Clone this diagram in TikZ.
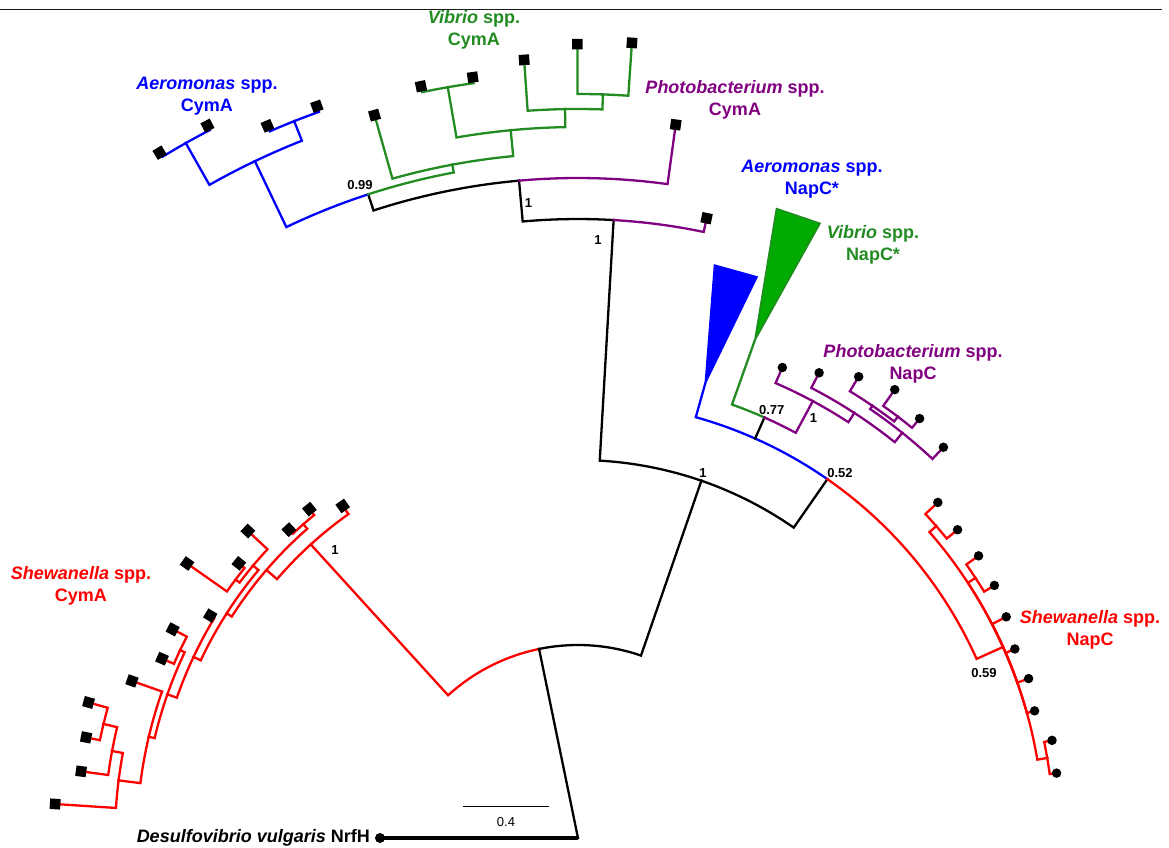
\documentclass[tikz,border=0pt]{standalone}
\usepackage{fontspec}
\setmainfont{Liberation Sans}
\definecolor{tred}{RGB}{255,0,0}
\definecolor{tblue}{RGB}{0,0,255}
\definecolor{tgreen}{RGB}{34,139,34}
\definecolor{tgreenfill}{RGB}{0,170,0}
\definecolor{tpurple}{RGB}{128,0,128}
\newcommand{\tbr}[5]{\draw[br,#1] (#2:#3) arc[start angle=#2, end angle=#4, radius=#3] -- (#4:#5);}
\newcommand{\sqleaf}[3]{\node[sqm, rotate=#2] (#1) at (#2:#3) {};}
\newcommand{\dotleaf}[3]{\node[dotm] (#1) at (#2:#3) {};}
\begin{document}
\begin{tikzpicture}[x=1pt,y=1pt,
  br/.style={line width=2.3pt, line cap=rect},
  sqm/.style={rectangle, fill=black, minimum size=10.5pt, inner sep=0pt},
  dotm/.style={circle, fill=black, minimum size=9.5pt, inner sep=0pt},
  lab/.style={font=\fontsize{18}{22}\selectfont\bfseries, align=center, inner sep=0pt},
  bsv/.style={font=\fontsize{13}{15}\selectfont\bfseries, inner sep=0pt}]
\useasboundingbox (-578,-9) rectangle (591,838);
% top rule
\draw[line width=1.7pt, black!90] (-578,828.5) -- (584,828.5);
% root
\coordinate (root) at (0,0);
\draw[br, line width=3.4pt, line cap=butt] (root) -- (180:198);
\draw[br] (root) -- (101.63:193);
% A
\tbr{tred}{101.63}{193}{132.31}{397}
\tbr{black}{101.63}{193}{70.95}{378}
% red CymA
\tbr{tred}{132.31}{397}{125.32}{407}
\tbr{tred}{132.31}{397}{139.3}{411}
\tbr{tred}{139.3}{411}{131.2}{417}
\tbr{tred}{131.2}{417}{129.24}{424.6}
\tbr{tred}{131.2}{417}{133.16}{422.7}
\tbr{tred}{139.3}{411}{147.4}{417}
\tbr{tred}{147.4}{417}{140.02}{424}
\tbr{tred}{140.02}{424}{137.08}{450.8}
\tbr{tred}{140.02}{424}{142.96}{429}
\tbr{tred}{142.96}{429}{141.0}{436.4}
\tbr{tred}{142.96}{429}{144.92}{477.7}
\tbr{tred}{147.4}{417}{154.78}{425}
\tbr{tred}{154.78}{425}{148.84}{429.8}
\tbr{tred}{154.78}{425}{160.72}{435}
\tbr{tred}{160.72}{435}{154.72}{440}
\tbr{tred}{154.72}{440}{152.76}{455.9}
\tbr{tred}{154.72}{440}{156.68}{453}
\tbr{tred}{160.72}{435}{166.725}{441}
\tbr{tred}{166.725}{441}{160.6}{472.9}
\tbr{tred}{166.725}{441}{172.85}{463}
\tbr{tred}{172.85}{463}{169.42}{474}
\tbr{tred}{172.85}{463}{176.28}{524}
\tbr{tred}{169.42}{474}{166.48}{488}
\tbr{tred}{169.42}{474}{172.36}{501.4}
\tbr{tred}{166.48}{488}{164.52}{507.9}
\tbr{tred}{166.48}{488}{168.44}{502.1}
% B
\tbr{black}{70.95}{378}{86.70}{619}
\tbr{black}{70.95}{378}{55.2}{437}
% C
\tbr{black}{86.70}{619}{95.125}{660}
\tbr{tpurple}{86.70}{619}{78.28}{633}
% E
\tbr{black}{95.125}{660}{108.05}{677}
\tbr{tpurple}{95.125}{660}{82.2}{720}
% F
\tbr{tblue}{108.05}{677}{115.52}{750}
\tbr{tgreen}{108.05}{677}{100.575}{685}
% G (Aeromonas CymA)
\tbr{tblue}{115.52}{750}{119.44}{798}
\tbr{tblue}{119.44}{798}{121.4}{803}
\tbr{tblue}{119.44}{798}{117.48}{803}
\tbr{tblue}{115.52}{750}{111.6}{771}
\tbr{tblue}{111.6}{771}{113.56}{777}
\tbr{tblue}{111.6}{771}{109.64}{777}
% H (Vibrio CymA)
\tbr{tgreen}{100.575}{685}{105.72}{751}
\tbr{tgreen}{100.575}{685}{95.43}{711}
\tbr{tgreen}{95.43}{711}{99.84}{762}
\tbr{tgreen}{99.84}{762}{101.8}{768}
\tbr{tgreen}{99.84}{762}{97.88}{768}
\tbr{tgreen}{95.43}{711}{91.02}{729}
\tbr{tgreen}{91.02}{729}{93.96}{780}
\tbr{tgreen}{91.02}{729}{88.08}{744}
\tbr{tgreen}{88.08}{744}{90.04}{794}
\tbr{tgreen}{88.08}{744}{86.12}{797}
% D
\tbr{tblue}{55.2}{437}{74.36}{472}
\draw[br,black] (66.09:437) -- (66.09:460);
\tbr{tred}{55.2}{437}{24.2}{466}
% Q
\tbr{tgreen}{66.09}{460}{70.44}{528}
\tbr{tpurple}{66.09}{460}{61.745}{496}
% Photobacterium NapC
\tbr{tpurple}{61.745}{496}{66.52}{513}
\tbr{tpurple}{61.745}{496}{56.97}{507}
\tbr{tpurple}{56.97}{507}{62.6}{524}
\tbr{tpurple}{56.97}{507}{51.33}{519}
\tbr{tpurple}{51.33}{519}{55.74}{523}
\tbr{tpurple}{51.33}{519}{46.92}{535}
\tbr{tpurple}{55.74}{523}{58.68}{540}
\tbr{tpurple}{55.74}{523}{52.8}{529}
\tbr{tpurple}{52.8}{529}{54.76}{549}
\tbr{tpurple}{52.8}{529}{50.84}{541}
% Shewanella NapC
\tbr{tred}{24.2}{466}{41.04}{475}
\tbr{tred}{41.04}{475}{43.0}{492}
\tbr{tred}{41.04}{475}{39.08}{489}
\tbr{tred}{24.2}{466}{33.2}{475}
\tbr{tred}{33.2}{475}{35.16}{490}
\tbr{tred}{33.2}{475}{31.24}{487}
\tbr{tred}{24.2}{466}{27.32}{482}
\tbr{tred}{24.2}{466}{23.4}{476}
\tbr{tred}{24.2}{466}{19.48}{478}
\tbr{tred}{24.2}{466}{15.56}{474}
\tbr{tred}{24.2}{466}{9.68}{476}
\tbr{tred}{9.68}{476}{11.64}{484}
\tbr{tred}{9.68}{476}{7.72}{483}
% collapsed clades
\filldraw[fill=tblue, draw=tblue, line width=1.5pt] (74.36:472) -- (76.6:589) -- (72.3:589) -- cycle;
\filldraw[fill=tgreenfill, draw=tgreen, line width=1.5pt] (70.44:528) -- (72.5:660) -- (68.5:660.6) -- cycle;
% leaf markers: squares (CymA)
\sqleaf{c1}{125.32}{407}
\sqleaf{c2}{129.24}{424.6}
\sqleaf{c3}{133.16}{422.7}
\sqleaf{c4}{137.08}{450.8}
\sqleaf{c5}{141.0}{436.4}
\sqleaf{c6}{144.92}{477.7}
\sqleaf{c7}{148.84}{429.8}
\sqleaf{c8}{152.76}{455.9}
\sqleaf{c9}{156.68}{453}
\sqleaf{c10}{160.6}{472.9}
\sqleaf{c11}{164.52}{507.9}
\sqleaf{c12}{168.44}{502.1}
\sqleaf{c13}{172.36}{501.4}
\sqleaf{c14}{176.28}{524}
\sqleaf{a1}{121.4}{803}
\sqleaf{a2}{117.48}{803}
\sqleaf{a3}{113.56}{777}
\sqleaf{a4}{109.64}{777}
\sqleaf{v1}{105.72}{751}
\sqleaf{v2}{101.8}{768}
\sqleaf{v3}{97.88}{768}
\sqleaf{v4}{93.96}{780}
\sqleaf{v5}{90.04}{794}
\sqleaf{v6}{86.12}{797}
\sqleaf{pc1}{82.2}{720}
\sqleaf{pc2}{78.28}{633}
% leaf markers: dots (NapC)
\dotleaf{p1}{66.52}{513}
\dotleaf{p2}{62.6}{524}
\dotleaf{p3}{58.68}{540}
\dotleaf{p4}{54.76}{549}
\dotleaf{p5}{50.84}{541}
\dotleaf{p6}{46.92}{535}
\dotleaf{n1}{43.0}{492}
\dotleaf{n2}{39.08}{489}
\dotleaf{n3}{35.16}{490}
\dotleaf{n4}{31.24}{487}
\dotleaf{n5}{27.32}{482}
\dotleaf{n6}{23.4}{476}
\dotleaf{n7}{19.48}{478}
\dotleaf{n8}{15.56}{474}
\dotleaf{n9}{11.64}{484}
\dotleaf{n10}{7.72}{483}
\node[circle, fill=black, minimum size=10pt, inner sep=0pt] (dv) at (180:198) {};
% clade labels
\node[lab, text=tblue] (lac) at (-371,741.5) {\textit{Aeromonas} spp.\\CymA};
\node[lab, text=tgreen] (lvc) at (-104,808) {\textit{Vibrio} spp.\\CymA};
\node[lab, text=tpurple] (lpc) at (157,738.5) {\textit{Photobacterium} spp.\\CymA};
\node[lab, text=tblue] (lan) at (234,658.5) {\textit{Aeromonas} spp.\\NapC*};
\node[lab, text=tgreen] (lvn) at (295,593.5) {\textit{Vibrio} spp.\\NapC*};
\node[lab, text=tpurple] (lpn) at (335,474.5) {\textit{Photobacterium} spp.\\NapC};
\node[lab, text=tred] (lsn) at (512,208.5) {\textit{Shewanella} spp.\\NapC};
\node[lab, text=tred] (lsc) at (-497,252.5) {\textit{Shewanella} spp.\\CymA};
\node[lab, anchor=east] (ldv) at (-208,0) {\textit{Desulfovibrio vulgaris} NrfH};
% support values
\node[bsv] (s1) at (-218,653) {0.99};
\node[bsv] (s2) at (-49.5,635) {1};
\node[bsv] (s3) at (20,598) {1};
\node[bsv] (s4) at (193.7,428) {0.77};
\node[bsv] (s5) at (235.5,420) {1};
\node[bsv] (s6) at (125,365) {1};
\node[bsv] (s7) at (262,365) {0.52};
\node[bsv] (s8) at (406,165) {0.59};
\node[bsv] (s9) at (-243,288) {1};
% scale bar
\coordinate (sb1) at (-115.3,32);
\coordinate (sb2) at (-28.7,32);
\draw[line width=1pt] (sb1) -- (sb2);
\node[font=\fontsize{13}{15}\selectfont, inner sep=0pt] (sbl) at (-72,16) {0.4};
\end{tikzpicture}
\end{document}
